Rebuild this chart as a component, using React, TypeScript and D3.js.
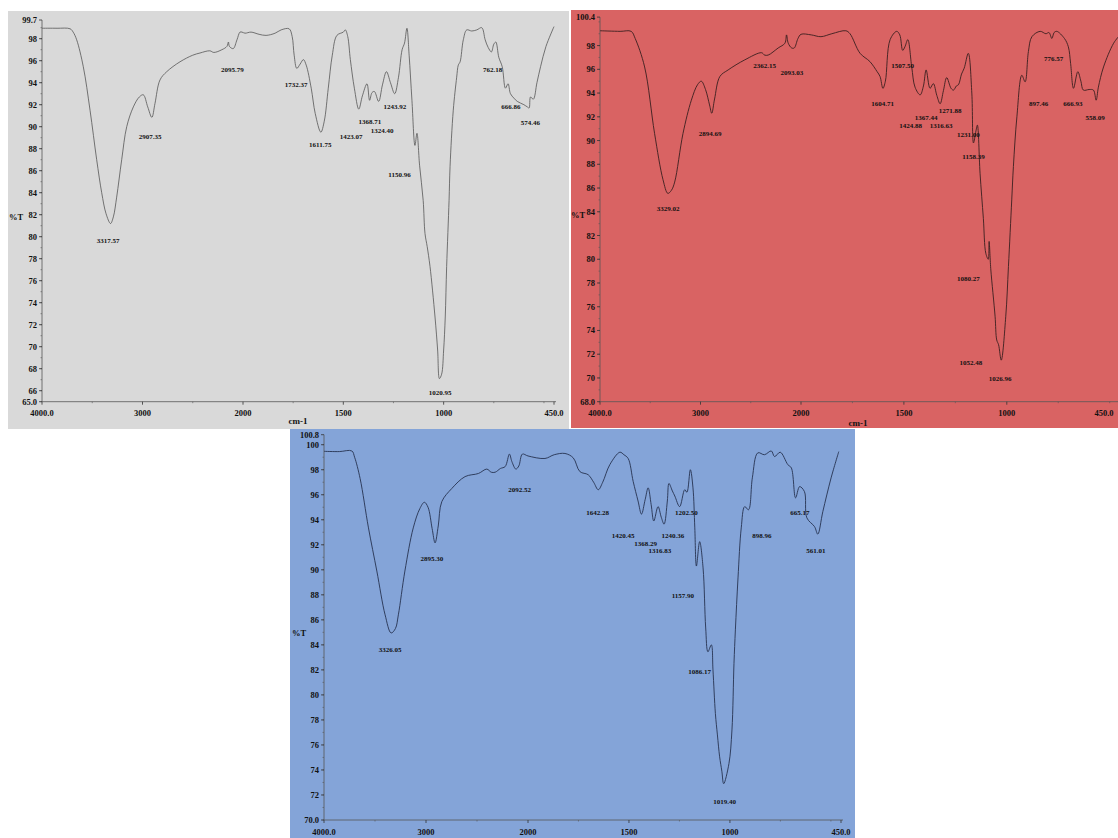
import React from 'react';
import * as d3 from 'd3';

// ---------- data (wavenumber cm-1, %T) ----------
const grayPoints: [number, number][] = [
  [4000, 98.95], [3850, 98.95], [3720, 98.9], [3690, 98.6], [3655, 97.9], [3589, 95.45], [3522, 91.5],
  [3456, 87.0], [3406, 84.0], [3363, 82.1], [3318, 81.2], [3290, 81.8], [3257, 83.6], [3207, 87.0],
  [3157, 90.0], [3091, 91.8], [3032, 92.7], [2992, 92.9], [2948, 91.8], [2907, 90.85], [2876, 92.1],
  [2826, 94.25], [2759, 95.0], [2627, 95.9], [2500, 96.5], [2428, 96.7], [2330, 96.9], [2290, 96.75],
  [2210, 97.0], [2160, 97.3], [2145, 97.7], [2135, 97.3], [2097, 97.1], [2060, 97.9], [2030, 98.6],
  [2010, 98.6], [1990, 98.5], [1960, 98.6], [1920, 98.4], [1885, 98.3], [1840, 98.5], [1810, 98.8],
  [1770, 98.9], [1755, 98.2], [1745, 96.5], [1732, 95.3], [1715, 95.7], [1699, 96.1], [1685, 95.6],
  [1660, 93.5], [1640, 91.2], [1612, 89.5], [1595, 90.5], [1575, 93.5], [1555, 96.5], [1532, 98.3],
  [1500, 98.6], [1490, 98.8], [1478, 98.2], [1465, 96.1], [1445, 93.5], [1423, 91.6], [1405, 92.8],
  [1382, 93.9], [1369, 92.4], [1357, 93.1], [1345, 93.2], [1324, 92.3], [1305, 93.8], [1285, 95.0],
  [1265, 94.0], [1244, 93.0], [1225, 94.5], [1207, 97.0], [1195, 97.6], [1183, 98.95], [1172, 96.5],
  [1158, 92.4], [1143, 88.3], [1133, 89.4], [1120, 86.5], [1102, 83.3], [1093, 80.3], [1082, 79.1],
  [1068, 77.3], [1043, 72.7], [1030, 69.7], [1021, 67.1], [1010, 67.5], [1000, 69.7], [992, 72.7],
  [985, 77.3], [973, 83.3], [968, 86.4], [952, 91.5], [935, 94.5], [927, 95.6], [918, 95.9],
  [902, 97.9], [885, 98.8], [860, 98.7], [835, 98.8], [810, 99.0], [793, 97.9], [778, 97.2],
  [762, 96.8], [750, 97.5], [740, 97.7], [725, 96.3], [708, 95.45], [692, 93.5], [679, 93.9],
  [667, 93.0], [650, 92.6], [633, 92.3], [600, 92.0], [583, 91.8], [574, 91.7], [567, 92.7],
  [553, 92.5], [535, 94.0], [517, 95.45], [490, 97.3], [450, 99.1],
];

const redPoints: [number, number][] = [
  [4000, 99.25], [3800, 99.2], [3690, 99.2], [3650, 98.6], [3556, 96.2], [3457, 90.6], [3373, 86.7],
  [3325, 85.55], [3290, 85.8], [3257, 86.5], [3174, 90.6], [3091, 93.4], [3030, 94.7], [2992, 95.0],
  [2950, 94.3], [2910, 93.0], [2888, 92.3], [2860, 93.5], [2807, 95.4], [2725, 95.95], [2559, 96.8],
  [2393, 97.4], [2362, 97.2], [2327, 97.2], [2227, 97.8], [2160, 98.2], [2144, 98.9], [2127, 98.2],
  [2093, 97.8], [2067, 97.8], [2030, 98.6], [2000, 98.95], [1950, 98.9], [1903, 98.75], [1850, 99.0],
  [1782, 99.25], [1762, 99.0], [1713, 97.35], [1665, 96.65], [1630, 95.8], [1616, 95.4], [1602, 94.4],
  [1590, 95.0], [1567, 98.5], [1535, 99.2], [1520, 98.9], [1506, 97.6], [1495, 97.9], [1481, 98.5],
  [1462, 96.2], [1446, 94.5], [1421, 93.85], [1405, 94.6], [1392, 95.95], [1373, 94.4], [1357, 94.8],
  [1340, 93.8], [1324, 93.1], [1308, 94.2], [1292, 95.3], [1271, 94.4], [1259, 94.25], [1245, 94.6],
  [1235, 94.7], [1220, 95.6], [1207, 96.1], [1187, 97.35], [1170, 94.0], [1162, 89.8], [1150, 90.8],
  [1143, 91.3], [1130, 87.25], [1114, 83.45], [1102, 80.5], [1090, 80.0], [1086, 81.5], [1078, 79.2],
  [1057, 75.2], [1049, 73.2], [1040, 72.8], [1027, 71.5], [1005, 75.2], [992, 79.4], [976, 85.0],
  [968, 87.8], [951, 92.0], [927, 95.5], [911, 94.95], [895, 97.5], [878, 98.75], [838, 99.2],
  [810, 99.0], [795, 99.1], [781, 98.6], [770, 99.1], [757, 99.2], [720, 98.6], [701, 97.9],
  [690, 96.5], [676, 94.4], [655, 95.8], [640, 95.0], [628, 94.25], [600, 94.3], [579, 94.25],
  [566, 93.4], [555, 94.5], [530, 96.2], [481, 98.2], [450, 98.9],
];

const bluePoints: [number, number][] = [
  [4000, 99.47], [3850, 99.45], [3727, 99.5], [3700, 99.0], [3646, 97.3], [3564, 93.35], [3482, 89.9],
  [3401, 86.4], [3342, 84.95], [3300, 85.3], [3271, 86.4], [3207, 89.9], [3125, 93.35], [3060, 94.9],
  [3016, 95.4], [2980, 95.0], [2940, 93.3], [2911, 92.15], [2880, 93.5], [2845, 95.45], [2747, 96.5],
  [2617, 97.45], [2486, 97.7], [2404, 98.05], [2360, 97.8], [2322, 97.8], [2270, 98.1], [2224, 98.25],
  [2182, 99.25], [2158, 98.65], [2119, 98.05], [2090, 98.3], [2055, 99.25], [2000, 99.1], [1916, 98.9],
  [1870, 99.2], [1817, 99.3], [1776, 98.95], [1743, 97.85], [1702, 97.6], [1675, 97.0], [1652, 96.4],
  [1630, 97.0], [1595, 98.4], [1545, 99.4], [1525, 99.2], [1504, 98.9], [1479, 97.05], [1455, 95.5],
  [1438, 94.45], [1420, 95.6], [1405, 96.55], [1390, 95.2], [1377, 93.9], [1356, 95.05], [1340, 94.2],
  [1326, 93.65], [1310, 95.5], [1302, 96.9], [1285, 96.3], [1273, 95.9], [1249, 95.05], [1224, 96.4],
  [1213, 96.2], [1196, 98.0], [1183, 96.55], [1174, 93.35], [1166, 90.3], [1150, 92.25], [1133, 90.15],
  [1120, 85.35], [1109, 83.45], [1092, 84.0], [1084, 82.0], [1072, 78.5], [1062, 76.8], [1051, 75.05],
  [1040, 73.9], [1031, 72.9], [1005, 74.5], [990, 77.2], [980, 82.5], [973, 85.2], [960, 89.35],
  [944, 93.35], [927, 95.05], [908, 94.8], [889, 97.35], [862, 99.35], [829, 99.2], [795, 99.5],
  [779, 99.05], [751, 99.4], [713, 98.4], [696, 98.15], [675, 95.75], [655, 96.65], [631, 96.25],
  [619, 94.15], [581, 93.45], [565, 92.85], [540, 94.65], [499, 97.35], [461, 99.45],
];

// peak labels: [text, wavenumber, %T] (anchor in data units)
const grayPeaks: [string, number, number][] = [
  ['3317.57', 3343, 79.6], ['2907.35', 2925, 89.1], ['2095.79', 2106, 95.15], ['1732.37', 1735, 93.8],
  ['1611.75', 1615, 88.35], ['1423.07', 1461, 89.1], ['1368.71', 1368, 90.4], ['1324.40', 1306, 89.65],
  ['1243.92', 1243, 91.75], ['1150.96', 1220, 85.6], ['1020.95', 1018, 65.75], ['762.18', 756, 95.15],
  ['666.86', 665, 91.75], ['574.46', 568, 90.35],
];
const redPeaks: [string, number, number][] = [
  ['3329.02', 3323, 84.2], ['2894.69', 2905, 90.55], ['2362.15', 2361, 96.3], ['2093.03', 2090, 95.65],
  ['1604.71', 1603, 93.1], ['1507.50', 1506, 96.3], ['1424.88', 1467, 91.2], ['1367.44', 1392, 91.9],
  ['1316.63', 1319, 91.2], ['1271.88', 1276, 92.5], ['1231.00', 1187, 90.5], ['1158.39', 1162, 88.65],
  ['1080.27', 1187, 78.3], ['1052.48', 1174, 71.3], ['1026.96', 1033, 69.95], ['897.46', 846, 93.1],
  ['776.57', 773, 96.9], ['666.93', 679, 93.1], ['558.09', 571, 91.9],
];
const bluePeaks: [string, number, number][] = [
  ['3326.05', 3352, 83.6], ['2895.30', 2942, 90.85], ['2092.52', 2083, 96.4], ['1642.28', 1655, 94.55],
  ['1420.45', 1529, 92.7], ['1368.29', 1417, 92.1], ['1316.83', 1347, 91.5], ['1240.36', 1283, 92.7],
  ['1202.50', 1216, 94.55], ['1157.90', 1233, 87.9], ['1086.17', 1150, 81.8], ['1019.40', 1026, 71.4],
  ['898.96', 842, 92.7], ['665.17', 654, 94.55], ['561.01', 575, 91.5],
];

const xTickValues = [4000, 3000, 2000, 1500, 1000, 450];
const xTickLabels = ['4000.0', '3000', '2000', '1500', '1000', '450.0'];
const grayYTicks = [99.7, 98, 96, 94, 92, 90, 88, 86, 84, 82, 80, 78, 76, 74, 72, 70, 68, 66, 65];
const grayYLabels = ['99.7', '98', '96', '94', '92', '90', '88', '86', '84', '82', '80', '78', '76', '74', '72', '70', '68', '66', '65.0'];
const redYTicks = [100.4, 98, 96, 94, 92, 90, 88, 86, 84, 82, 80, 78, 76, 74, 72, 70, 68];
const redYLabels = ['100.4', '98', '96', '94', '92', '90', '88', '86', '84', '82', '80', '78', '76', '74', '72', '70', '68.0'];
const blueYTicks = [100.8, 100, 98, 96, 94, 92, 90, 88, 86, 84, 82, 80, 78, 76, 74, 72, 70];
const blueYLabels = ['100.8', '100', '98', '96', '94', '92', '90', '88', '86', '84', '82', '80', '78', '76', '74', '72', '70.0'];

type PanelCfg = {
  key: string;
  bg: { x: number; y: number; w: number; h: number; fill: string };
  xRange: [number, number, number];
  yDomain: [number, number];
  yRange: [number, number];
  points: [number, number][];
  peaks: [string, number, number][];
  yTicks: number[];
  yLabels: string[];
  lineColor: string;
  lineWidth: number;
  xLabelY: number;
  cm?: [number, number];
  pt: [number, number];
  axisEnd: number;
};

const panels: PanelCfg[] = [
  {
    key: 'gray',
    bg: { x: 8, y: 11, w: 561, h: 418, fill: '#d9d9d9' },
    xRange: [42, 243, 554],
    yDomain: [65, 99.7],
    yRange: [401.7, 20],
    points: grayPoints,
    peaks: grayPeaks,
    yTicks: grayYTicks,
    yLabels: grayYLabels,
    lineColor: '#555555',
    lineWidth: 0.8,
    xLabelY: 413,
    cm: [298, 421],
    pt: [9, 217],
    axisEnd: 556,
  },
  {
    key: 'red',
    bg: { x: 571, y: 10, w: 547, h: 418, fill: '#d96363' },
    xRange: [600, 801, 1120],
    yDomain: [68, 100.4],
    yRange: [401.7, 17.1],
    points: redPoints,
    peaks: redPeaks,
    yTicks: redYTicks,
    yLabels: redYLabels,
    lineColor: '#3a1f1f',
    lineWidth: 0.9,
    xLabelY: 413,
    cm: [858, 423],
    pt: [571, 215],
    axisEnd: 1118,
  },
  {
    key: 'blue',
    bg: { x: 290, y: 429, w: 565, h: 409, fill: '#84a4d8' },
    xRange: [324, 528, 841],
    yDomain: [70, 100.8],
    yRange: [820, 434.7],
    points: bluePoints,
    peaks: bluePeaks,
    yTicks: blueYTicks,
    yLabels: blueYLabels,
    lineColor: '#263250',
    lineWidth: 0.9,
    xLabelY: 832,
    pt: [292, 633],
    axisEnd: 843,
  },
];

const FONT = '"Liberation Serif", "DejaVu Serif", serif';

function Panel({ cfg }: { cfg: PanelCfg }) {
  const x = d3.scaleLinear().domain([4000, 2000, 450]).range(cfg.xRange);
  const y = d3.scaleLinear().domain(cfg.yDomain).range(cfg.yRange);
  const line = d3
    .line<[number, number]>()
    .x((d) => x(d[0]))
    .y((d) => y(d[1]))
    .curve(d3.curveCatmullRom.alpha(0.5));
  const x0 = x(4000);
  const yBottom = y(cfg.yDomain[0]);
  const yTop = y(cfg.yDomain[1]);
  const minorY = d3.range(Math.ceil(cfg.yDomain[0]), Math.floor(cfg.yDomain[1]) + 1, 1);
  const minorX = [3500, 2500, 1750, 1250, 750, 500];
  return (
    <g>
      <rect x={cfg.bg.x} y={cfg.bg.y} width={cfg.bg.w} height={cfg.bg.h} fill={cfg.bg.fill} />
      {/* axes */}
      <line x1={x0} x2={x0} y1={yTop} y2={yBottom} stroke="#555" strokeWidth={0.8} />
      <line x1={x0} x2={cfg.axisEnd} y1={yBottom} y2={yBottom} stroke="#555" strokeWidth={0.8} />
      {minorY.map((v) => (
        <line key={'my' + v} x1={x0 - 1.5} x2={x0} y1={y(v)} y2={y(v)} stroke="#555" strokeWidth={0.6} />
      ))}
      {cfg.yTicks.map((v, i) => (
        <g key={'yt' + i}>
          <line x1={x0 - 3} x2={x0} y1={y(v)} y2={y(v)} stroke="#333" strokeWidth={0.8} />
          <text
            x={x0 - 5}
            y={y(v)}
            textAnchor="end"
            dominantBaseline="central"
            fontFamily={FONT}
            fontWeight={700}
            fontSize={8.5}
            fill="#111"
          >
            {cfg.yLabels[i]}
          </text>
        </g>
      ))}
      {minorX.map((v) => (
        <line key={'mx' + v} x1={x(v)} x2={x(v)} y1={yBottom} y2={yBottom + 1.5} stroke="#555" strokeWidth={0.6} />
      ))}
      {xTickValues.map((v, i) => (
        <g key={'xt' + i}>
          <line x1={x(v)} x2={x(v)} y1={yBottom} y2={yBottom + 3} stroke="#333" strokeWidth={0.8} />
          <text
            x={Math.min(x(v), 1118 - 14)}
            y={cfg.xLabelY}
            textAnchor="middle"
            dominantBaseline="central"
            fontFamily={FONT}
            fontWeight={700}
            fontSize={8.5}
            fill="#111"
          >
            {xTickLabels[i]}
          </text>
        </g>
      ))}
      {cfg.cm && (
        <text x={cfg.cm[0]} y={cfg.cm[1]} textAnchor="middle" dominantBaseline="central" fontFamily={FONT} fontWeight={700} fontSize={9} fill="#111">
          cm-1
        </text>
      )}
      <text x={cfg.pt[0]} y={cfg.pt[1]} textAnchor="start" dominantBaseline="central" fontFamily={FONT} fontWeight={700} fontSize={8.5} fill="#111">
        %T
      </text>
      {/* spectrum */}
      <path d={line(cfg.points) || ''} fill="none" stroke={cfg.lineColor} strokeWidth={cfg.lineWidth} strokeLinejoin="round" />
      {/* peak labels */}
      {cfg.peaks.map((p, i) => (
        <text
          key={'pk' + i}
          x={x(p[1])}
          y={y(p[2])}
          textAnchor="middle"
          dominantBaseline="central"
          fontFamily={FONT}
          fontWeight={700}
          fontSize={7}
          fill="#111"
        >
          {p[0]}
        </text>
      ))}
    </g>
  );
}

export default function App() {
  return (
    <svg
      width={1118}
      height={838}
      viewBox="0 0 1118 838"
      style={{ position: 'absolute', left: 0, top: 0, background: '#ffffff' }}
    >
      <rect x={0} y={0} width={1118} height={838} fill="#ffffff" />
      {panels.map((p) => (
        <Panel key={p.key} cfg={p} />
      ))}
    </svg>
  );
}
